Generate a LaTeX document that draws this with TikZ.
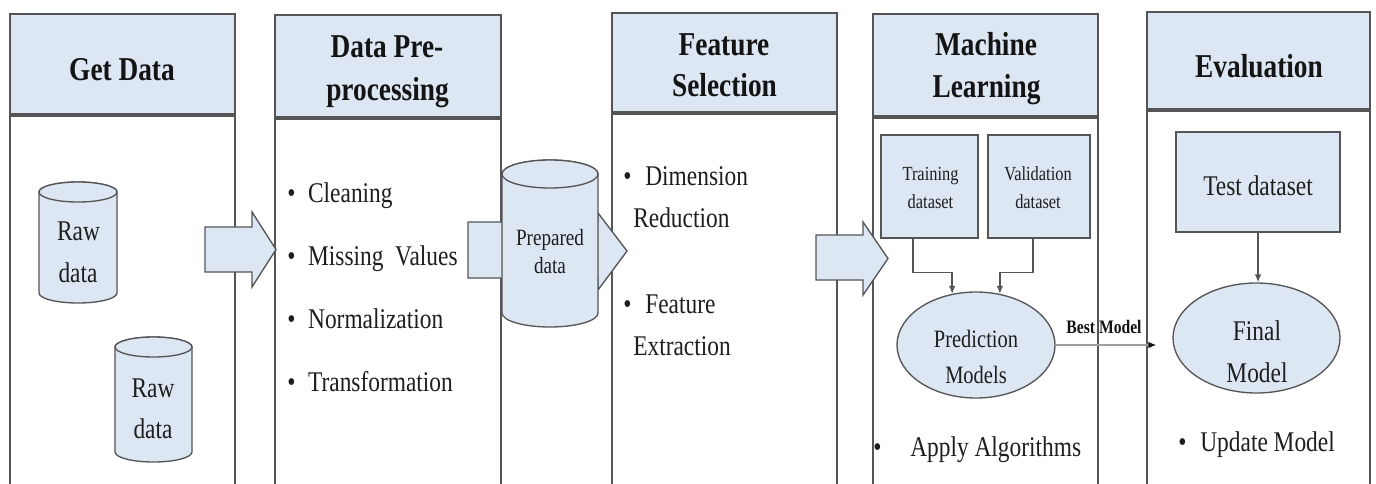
\documentclass[tikz,border=0pt]{standalone}
\usepackage{fontspec}
\setmainfont{Liberation Serif}[FakeStretch=0.82]
\usetikzlibrary{arrows.meta,shapes.geometric,calc}

\definecolor{paleblue}{RGB}{221,231,243}
\definecolor{edge}{RGB}{85,85,85}
\definecolor{ink}{RGB}{20,20,20}
\definecolor{bodyink}{RGB}{30,30,30}

% bullet followed by a gap of the given width
\newcommand{\bulgap}[1]{\textbullet\hspace{#1}}

% database drum: centre x, top y, bottom y, x radius, y radius (y measured downwards)
\newcommand{\drum}[5]{%
  \filldraw[cyl] (#1-#4,-#2-#5) -- (#1-#4,-#3+#5)
    arc[start angle=180,end angle=360,x radius=#4,y radius=#5]
    -- (#1+#4,-#2-#5)
    arc[start angle=0,end angle=180,x radius=#4,y radius=#5] -- cycle;
  \draw[cyl] (#1,-#2-#5) ellipse[x radius=#4,y radius=#5];}

\begin{document}
\begin{tikzpicture}[x=0.75pt,y=0.75pt,
  panel/.style={draw=edge,line width=1.1pt,fill=white},
  headfill/.style={draw=edge,line width=1.1pt,fill=paleblue},
  headrule/.style={draw=edge,line width=2.3pt},
  headtxt/.style={font=\fontsize{25}{30}\selectfont\bfseries,text=ink,anchor=base,inner sep=0pt},
  bodytxt/.style={font=\fontsize{21.4}{30}\selectfont,text=bodyink,anchor=base west,inner sep=0pt},
  ctrtxt/.style={font=\fontsize{21.4}{30}\selectfont,text=bodyink,anchor=base,inner sep=0pt},
  smalltxt/.style={font=\fontsize{15}{20}\selectfont,text=bodyink,anchor=base,inner sep=0pt},
  databox/.style={rectangle,draw=edge,line width=1pt,fill=paleblue,inner sep=0pt},
  modelell/.style={ellipse,draw=edge,line width=1pt,fill=paleblue,inner sep=0pt},
  flow/.style={draw=edge,line width=1pt,-{Latex[length=6pt,width=5pt]}},
  handover/.style={draw=gray!75,line width=1pt,-{Latex[length=6pt,width=5pt,color=ink]}},
  blockarrow/.style={draw=edge,line width=1pt,fill=paleblue,line join=miter},
  cyl/.style={draw=edge,line width=1pt,fill=paleblue}]

\useasboundingbox (0,0) rectangle (1376,-483);
\fill[white] (0,0) rectangle (1376,-483);
\clip (0,0) rectangle (1376,-483);

% ---- stage panels ----
\draw[panel] (10,-14) rectangle (235,-500);
\draw[headfill] (10,-14) rectangle (235,-115);
\draw[headrule] (10,-115) -- (235,-115);

\draw[panel] (275,-15) rectangle (501,-500);
\draw[headfill] (275,-15) rectangle (501,-118);
\draw[headrule] (275,-118) -- (501,-118);

\draw[panel] (612,-13) rectangle (837,-500);
\draw[headfill] (612,-13) rectangle (837,-113);
\draw[headrule] (612,-113) -- (837,-113);

\draw[panel] (873,-14) rectangle (1098,-500);
\draw[headfill] (873,-14) rectangle (1098,-117);
\draw[headrule] (873,-117) -- (1098,-117);

\draw[panel] (1147,-12) rectangle (1370,-500);
\draw[headfill] (1147,-12) rectangle (1370,-110);
\draw[headrule] (1147,-110) -- (1370,-110);

% ---- panel titles ----
\node[headtxt] (t-get) at (122,-80) {Get Data};
\node[headtxt] (t-pre1) at (387,-57) {Data Pre-};
\node[headtxt] (t-pre2) at (387.5,-100) {processing};
\node[headtxt] (t-fs1) at (724,-55) {Feature};
\node[headtxt] (t-fs2) at (724.5,-96) {Selection};
\node[headtxt] (t-ml1) at (986,-55) {Machine};
\node[headtxt] (t-ml2) at (986.5,-97) {Learning};
\node[headtxt] (t-ev) at (1259,-77) {Evaluation};

% ---- block arrows between stages ----
\draw[blockarrow] (205,-227) -- (252,-227) -- (252,-212) -- (276,-249.5)
  -- (252,-287) -- (252,-272) -- (205,-272) -- cycle;
\draw[blockarrow] (468,-222) -- (598,-222) -- (598,-213) -- (627,-251)
  -- (598,-290) -- (598,-278) -- (468,-278) -- cycle;
\draw[blockarrow] (816,-235) -- (863,-235) -- (863,-222) -- (888,-258.5)
  -- (863,-295) -- (863,-280) -- (816,-280) -- cycle;

% ---- data stores ----
\drum{78}{182}{303}{39}{10}
\node[ctrtxt] (raw1a) at (78.5,-240) {Raw};
\node[ctrtxt] (raw1b) at (78,-282) {data};

\drum{153.5}{337}{462}{38.5}{10}
\node[ctrtxt] (raw2a) at (153,-397) {Raw};
\node[ctrtxt] (raw2b) at (153,-438) {data};

\drum{550}{160}{327}{48}{14}
\node[ctrtxt,font=\fontsize{17.5}{22}\selectfont] (prep-a) at (550,-245) {Prepared};
\node[ctrtxt,font=\fontsize{17.5}{22}\selectfont] (prep-b) at (550,-273) {data};

% ---- pre-processing steps ----
\node[bodytxt] (b-clean) at (287,-202) {\bulgap{9.5pt}Cleaning};
\node[bodytxt] (b-miss) at (287,-265) {\bulgap{9.5pt}Missing\ \ Values};
\node[bodytxt] (b-norm) at (287,-328) {\bulgap{9.5pt}Normalization};
\node[bodytxt] (b-trans) at (287,-391) {\bulgap{9.5pt}Transformation};

% ---- feature selection steps ----
\node[bodytxt] (b-dim) at (623,-185) {\bulgap{10.4pt}Dimension};
\node[bodytxt] (b-red) at (633,-227) {Reduction};
\node[bodytxt] (b-feat) at (623,-313) {\bulgap{10.4pt}Feature};
\node[bodytxt] (b-ext) at (633,-355) {Extraction};

% ---- machine learning ----
\node[databox,minimum width=72.75pt,minimum height=77.25pt] (train) at (929.5,-186.5) {};
\node[databox,minimum width=76.5pt,minimum height=77.25pt] (valid) at (1039,-186.5) {};
\node[smalltxt] (train-a) at (930.5,-180) {Training};
\node[smalltxt] (train-b) at (930.5,-208) {dataset};
\node[smalltxt] (valid-a) at (1038,-180) {Validation};
\node[smalltxt] (valid-b) at (1038,-208) {dataset};

\node[modelell,minimum width=118.5pt,minimum height=79.5pt] (pred) at (976,-345) {};
\node[ctrtxt,font=\fontsize{18.75}{24}\selectfont] (pred-a) at (976,-347) {Prediction};
\node[ctrtxt,font=\fontsize{18.75}{24}\selectfont] (pred-b) at (976,-383) {Models};

\draw[flow] ([xshift=-12.4pt]train.south) -- ++(0,-34) -| (pred.115);
\draw[flow] ([xshift=-4.5pt]valid.south) -- ++(0,-34) -| (pred.65);

\node[bodytxt] (b-apply) at (873,-456) {\bulgap{21.6pt}Apply Algorithms};

% ---- evaluation ----
\node[databox,minimum width=123pt,minimum height=75pt] (testset) at (1258,-182) {};
\node[ctrtxt] (test-t) at (1258,-195) {Test dataset};

\node[modelell,minimum width=125.25pt,minimum height=82.5pt] (final) at (1256.5,-338) {};
\node[ctrtxt] (final-a) at (1257,-340) {Final};
\node[ctrtxt] (final-b) at (1257,-382) {Model};

\draw[flow] (testset.south) -- (testset.south |- final.north);

\node[bodytxt] (b-upd) at (1178,-451) {\bulgap{10.4pt}Update Model};

% ---- best model hand-over ----
\draw[handover] (pred.east) -- ([xshift=-12pt]pred.east -| final.west);
\node[ctrtxt,font=\fontsize{14.3}{18}\selectfont\bfseries,text=ink] (best) at (1104,-333) {Best Model};

\end{tikzpicture}
\end{document}
